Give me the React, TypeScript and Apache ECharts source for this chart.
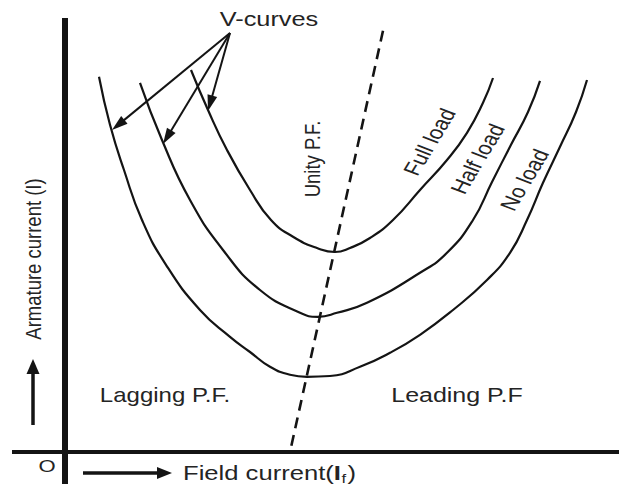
import React, { useEffect, useRef } from "react";
import * as echarts from "echarts";

// V-curves of a synchronous motor: armature current (I) vs field current (If)
const fullLoad: number[][] = [
  [2.52, 9.55], [2.86, 8.55], [3.24, 7.55], [3.70, 6.55], [4.12, 5.80], [4.56, 5.38],
  [5.04, 5.10], [5.40, 5.00], [5.70, 5.10], [6.10, 5.35], [6.56, 5.80], [7.10, 6.55],
  [7.64, 7.30], [8.04, 7.98], [8.36, 8.73], [8.56, 9.35],
];
const halfLoad: number[][] = [
  [1.50, 9.23], [1.94, 7.80], [2.50, 6.30], [3.16, 5.05], [3.90, 4.05], [4.70, 3.48],
  [5.06, 3.38], [5.44, 3.48], [6.04, 3.73], [7.10, 4.48], [7.64, 4.98], [8.16, 5.80],
  [8.54, 6.75], [8.92, 7.68], [9.26, 8.50], [9.50, 9.28],
];
const noLoad: number[][] = [
  [0.68, 9.38], [0.90, 8.18], [1.18, 7.05], [1.54, 5.80], [2.02, 4.68], [2.70, 3.55],
  [3.30, 2.88], [3.70, 2.50], [4.10, 2.13], [4.50, 1.93], [4.84, 1.88], [5.30, 1.90],
  [5.90, 2.13], [6.50, 2.48], [7.10, 2.93], [7.76, 3.55], [8.44, 4.30], [8.90, 4.98],
  [9.24, 5.80], [9.56, 6.73], [9.90, 7.63], [10.22, 8.50], [10.44, 9.30],
];
const unityPF: number[][] = [[6.36, 10.53], [4.50, 0]];

const curveNames = ["Full load", "Half load", "No load"];
const regionLabels = ["Lagging P.F.", "Leading P.F"];
const titleText = "V-curves";
const unityText = "Unity P.F.";
const yAxisText = "Armature current (I)";
const xAxisText = "Field current(";
const originText = "O";

const INK = "#141414";
const TXT = "#242424";
const FAM = '"Liberation Sans", Arial, Helvetica, sans-serif';

function measure(text: string, font: string): number {
  const c = document.createElement("canvas").getContext("2d");
  if (!c) return text.length * 10;
  c.font = font;
  return c.measureText(text).width;
}

function label(text: string, x: number, y: number, size: number, sx: number, rotDeg = 0, align = "center") {
  return {
    type: "group",
    x,
    y,
    scaleX: sx,
    children: [
      {
        type: "text",
        rotation: (rotDeg * Math.PI) / 180,
        style: {
          text,
          font: `${size}px ${FAM}`,
          fill: TXT,
          align,
          verticalAlign: "middle",
        },
      },
    ],
  };
}

function arrow(x1: number, y1: number, x2: number, y2: number, w: number, hl: number, hw: number) {
  const dx = x2 - x1;
  const dy = y2 - y1;
  const L = Math.sqrt(dx * dx + dy * dy);
  const ux = dx / L;
  const uy = dy / L;
  const bx = x2 - ux * hl;
  const by = y2 - uy * hl;
  const px = -uy;
  const py = ux;
  return [
    {
      type: "line",
      shape: { x1, y1, x2: x2 - ux * hl * 0.7, y2: y2 - uy * hl * 0.7 },
      style: { stroke: INK, lineWidth: w },
    },
    {
      type: "polygon",
      shape: {
        points: [
          [x2, y2],
          [bx + (px * hw) / 2, by + (py * hw) / 2],
          [bx - (px * hw) / 2, by - (py * hw) / 2],
        ],
      },
      style: { fill: INK },
    },
  ];
}

export default function App() {
  const ref = useRef<HTMLDivElement>(null);

  useEffect(() => {
    if (!ref.current) return;
    const chart = echarts.init(ref.current, undefined, { renderer: "svg" });

    const curveSeries = [fullLoad, halfLoad, noLoad].map((d, i) => ({
      name: curveNames[i],
      type: "line",
      data: d,
      smooth: 0.5,
      showSymbol: false,
      symbol: "none",
      lineStyle: { color: INK, width: 2.2 },
      z: 3,
    }));

    // x-axis label parts
    const fNorm = `20px ${FAM}`;
    const fBold = `bold 20px ${FAM}`;
    const w1 = measure(xAxisText, fNorm);
    const wI = measure("I", fBold);
    const wf = measure("f", `13px ${FAM}`);

    const fieldLabel = {
      type: "group",
      x: 183,
      y: 473,
      scaleX: 1.28,
      children: [
        { type: "text", x: 0, y: 0, style: { text: xAxisText, font: fNorm, fill: TXT, align: "left", verticalAlign: "middle" } },
        { type: "text", x: w1, y: 0, style: { text: "I", font: fBold, fill: TXT, align: "left", verticalAlign: "middle" } },
        { type: "text", x: w1 + wI + 0.5, y: 5, style: { text: "f", font: `13px ${FAM}`, fill: TXT, align: "left", verticalAlign: "middle" } },
        { type: "text", x: w1 + wI + wf + 1.5, y: 0, style: { text: ")", font: fNorm, fill: TXT, align: "left", verticalAlign: "middle" } },
      ],
    };

    const graphics: any[] = [
      // axes
      { type: "rect", shape: { x: 62, y: 18, width: 6, height: 466 }, style: { fill: INK }, z: 5 },
      { type: "rect", shape: { x: 12, y: 450, width: 607, height: 4 }, style: { fill: INK }, z: 5 },
      // V-curves pointers
      ...arrow(230, 33, 112, 130, 2, 16, 10),
      ...arrow(230, 33, 163, 144, 2, 16, 10),
      ...arrow(230, 33, 208, 111, 2, 16, 10),
      // axis direction arrows
      ...arrow(83, 473, 172, 473, 3.5, 15, 12),
      ...arrow(33, 425, 33, 359, 3.5, 15, 13),
      // texts
      label(titleText, 269, 20, 19.5, 1.3),
      label(unityText, 312, 159, 18.5, 1.2, 90),
      label(yAxisText, 33, 259, 18.5, 1.2, 90),
      label(regionLabels[0], 165, 395, 20, 1.2),
      label(regionLabels[1], 457, 395, 20, 1.25),
      label(originText, 47, 466, 17, 1.3),
      label(curveNames[0], 430, 142, 19, 1.25, 64),
      label(curveNames[1], 478, 159, 19, 1.25, 64),
      label(curveNames[2], 525, 180, 19, 1.25, 64),
      fieldLabel,
    ];

    chart.setOption({
      animation: false,
      backgroundColor: "#ffffff",
      grid: { left: 65, top: 12, width: 550, height: 440 },
      xAxis: { type: "value", min: 0, max: 11, show: false },
      yAxis: { type: "value", min: 0, max: 11, show: false },
      series: [
        ...curveSeries,
        {
          name: unityText,
          type: "line",
          data: unityPF,
          showSymbol: false,
          symbol: "none",
          lineStyle: { color: INK, width: 2.6, type: [11, 7] },
          z: 2,
        },
      ],
      graphic: graphics,
    });

    return () => chart.dispose();
  }, []);

  return (
    <div
      ref={ref}
      style={{ position: "absolute", left: 0, top: 0, width: 619, height: 484, background: "#fff" }}
    />
  );
}
